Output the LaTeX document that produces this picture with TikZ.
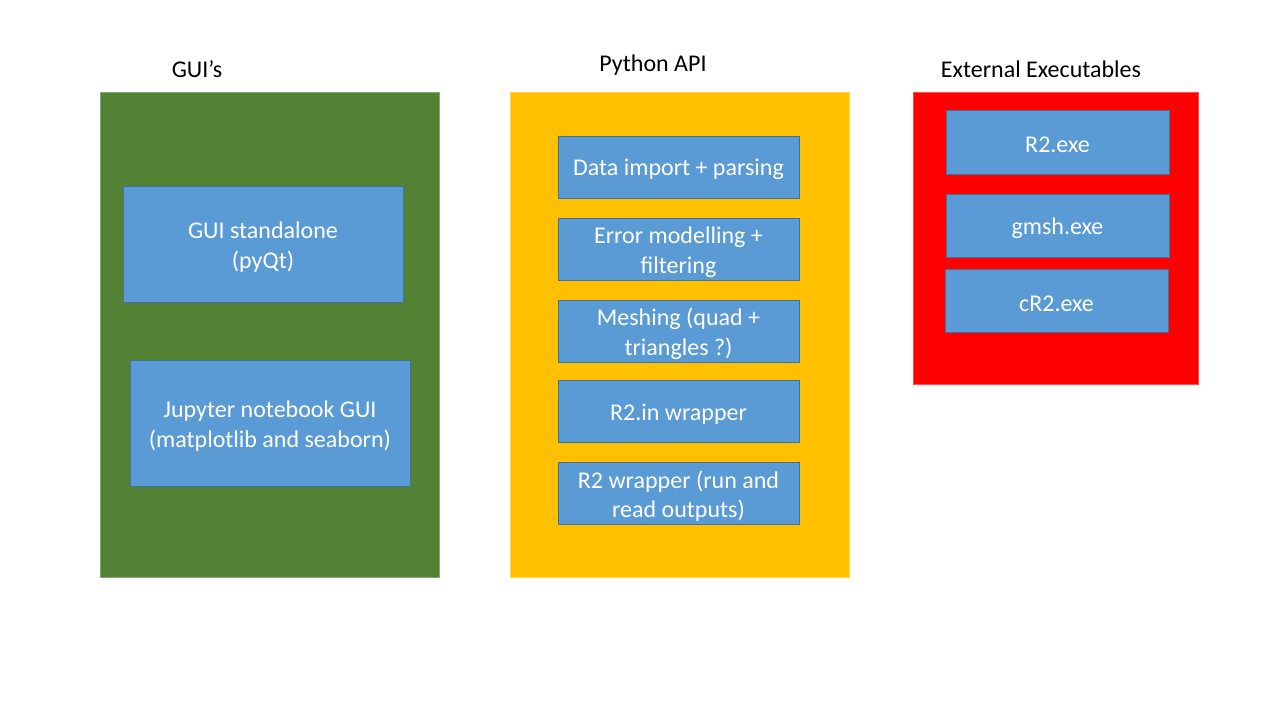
\documentclass[tikz,border=0pt]{standalone}
\usepackage{fontspec}
\setmainfont{Carlito}
\definecolor{gG}{HTML}{548235}
\definecolor{gY}{HTML}{FFC000}
\definecolor{gR}{HTML}{FF0000}
\definecolor{bF}{HTML}{5B9BD5}
\definecolor{bB}{HTML}{41719C}
\tikzset{
  panel/.style={draw=#1!70!white, line width=0.8pt, fill=#1},
  item/.style={draw=bB, line width=0.8pt, fill=bF, inner sep=0pt},
  itemtxt/.style={text=white, align=center, inner sep=0pt,
    font=\fontsize{24}{29.5}\selectfont},
  ttl/.style={font=\fontsize{24}{29}\selectfont, text=black, inner sep=0pt}
}
\begin{document}
\begin{tikzpicture}[x=1pt,y=-1pt]
\useasboundingbox (0,0) rectangle (1280,720);
\fill[white] (0,0) rectangle (1280,720);
% panels
\draw[panel=gG] (100,92) rectangle (439,577);
\draw[panel=gY] (510,92) rectangle (849,577);
\draw[panel=gR] (913,92) rectangle (1198,384);
% titles
\node[ttl] (t1) at (197,69) {GUI’s};
\node[ttl] (t2) at (653,65) {Python API};
\node[ttl] (t3) at (1041,69) {External Executables};
% GUI items
\node[item, minimum width=280pt, minimum height=116pt] (g1) at (263,244) {};
\node[itemtxt] (g1t) at ([yshift=-3pt]g1.center) {GUI standalone\\(pyQt)};
\node[item, minimum width=280pt, minimum height=126pt] (g2) at (270,423) {};
\node[itemtxt] (g2t) at ([yshift=-3pt]g2.center) {Jupyter notebook GUI\\(matplotlib and seaborn)};
% Python items
\node[item, minimum width=241pt, minimum height=62pt] (p1) at (678.5,167) {};
\node[itemtxt] (p1t) at ([yshift=-2.5pt]p1.center) {Data import + parsing};
\node[item, minimum width=241pt, minimum height=62pt] (p2) at (678.5,249) {};
\node[itemtxt] (p2t) at ([yshift=-3pt]p2.center) {Error modelling +\\filtering};
\node[item, minimum width=241pt, minimum height=62pt] (p3) at (678.5,331) {};
\node[itemtxt] (p3t) at ([yshift=-3pt]p3.center) {Meshing (quad +\\triangles ?)};
\node[item, minimum width=241pt, minimum height=62pt] (p4) at (678.5,411) {};
\node[itemtxt] (p4t) at ([yshift=-3pt]p4.center) {R2.in wrapper};
\node[item, minimum width=241pt, minimum height=62pt] (p5) at (678.5,493) {};
\node[itemtxt] (p5t) at ([yshift=-3pt]p5.center) {R2 wrapper (run and\\read outputs)};
% executables
\node[item, minimum width=223pt, minimum height=64pt] (e1) at (1057.5,142) {};
\node[itemtxt] (e1t) at ([yshift=-3pt]e1.center) {R2.exe};
\node[item, minimum width=223pt, minimum height=63pt] (e2) at (1057.5,225.5) {};
\node[itemtxt] (e2t) at ([yshift=-3pt]e2.center) {gmsh.exe};
\node[item, minimum width=223pt, minimum height=63pt] (e3) at (1056.5,300.5) {};
\node[itemtxt] (e3t) at ([yshift=-3pt]e3.center) {cR2.exe};
\end{tikzpicture}
\end{document}
